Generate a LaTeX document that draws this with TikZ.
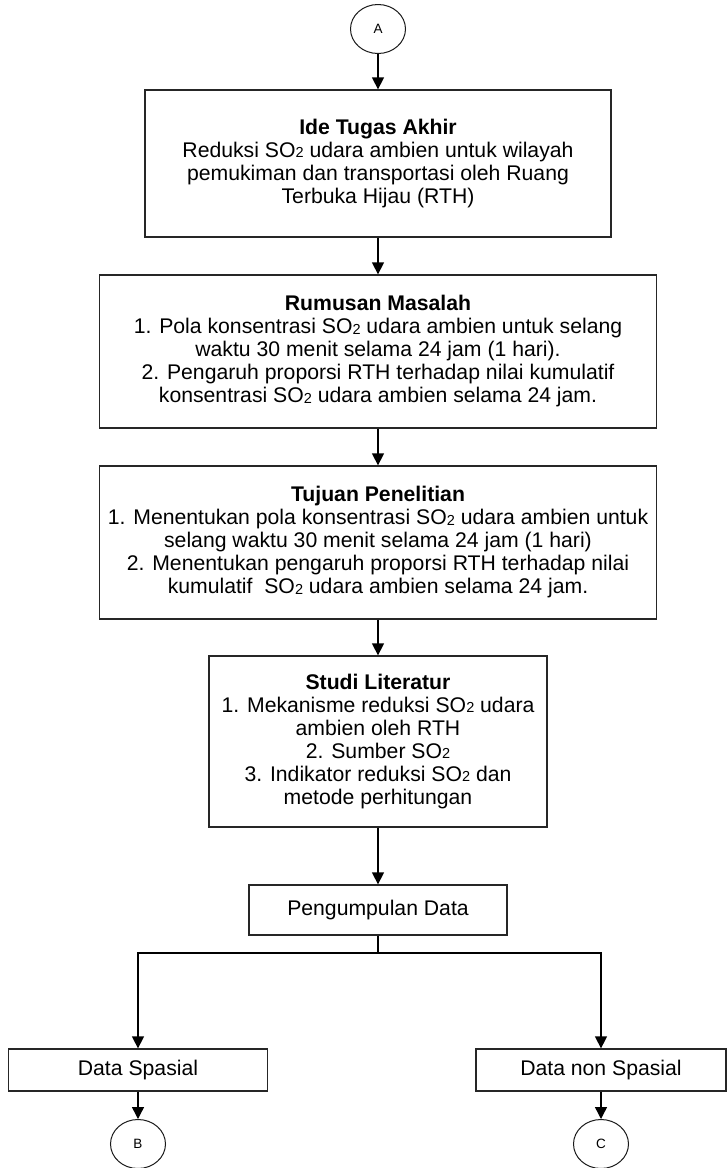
\documentclass[tikz,border=0pt]{standalone}
\usepackage{fontspec}
\setmainfont{Liberation Sans}
\usetikzlibrary{arrows.meta,shapes.geometric}
\newcommand{\sotwo}{SO\raisebox{-0.5pt}{\fontsize{14.5}{14.5}\selectfont 2}}
\begin{document}
\begin{tikzpicture}[x=1pt,y=-1pt,
  txt/.style={font=\fontsize{21.2}{23}\selectfont, align=center},
  box/.style={txt, draw=black!85, line width=1.3pt, inner sep=0pt},
  conn/.style={ellipse, draw=black!90, line width=1pt, minimum width=55pt, minimum height=49pt, inner sep=0pt, font=\fontsize{13.5}{13.5}\selectfont},
  arr/.style={line width=1.4pt, -{Triangle[width=12pt,length=12pt]}},
  ln/.style={line width=1.4pt}]
\useasboundingbox (0,0) rectangle (726,1168);
\node[conn] (A) at (378,29) {A};
\node[box, minimum width=466pt, minimum height=147pt] (b1) at (378,163.5)
  {\textbf{Ide Tugas Akhir}\\Reduksi \sotwo{} udara ambien untuk wilayah\\pemukiman dan transportasi oleh Ruang\\Terbuka Hijau (RTH)};
\node[box, minimum width=557pt, minimum height=153pt] (b2) at (378,351.5)
  {\textbf{Rumusan Masalah}\\1. Pola konsentrasi \sotwo{} udara ambien untuk selang\\waktu 30 menit selama 24 jam (1 hari).\\2. Pengaruh proporsi RTH terhadap nilai kumulatif\\konsentrasi \sotwo{} udara ambien selama 24 jam.};
\node[box, minimum width=557pt, minimum height=153pt] (b3) at (378,542.5)
  {\textbf{Tujuan Penelitian}\\1. Menentukan pola konsentrasi \sotwo{} udara ambien untuk\\selang waktu 30 menit selama 24 jam (1 hari)\\2. Menentukan pengaruh proporsi RTH terhadap nilai\\kumulatif\ \ \sotwo{} udara ambien selama 24 jam.};
\node[box, minimum width=338pt, minimum height=171pt] (b4) at (378,741.5)
  {\textbf{Studi Literatur}\\1. Mekanisme reduksi \sotwo{} udara\\ambien oleh RTH\\2. Sumber \sotwo\\3. Indikator reduksi \sotwo{} dan\\metode perhitungan};
\node[box, minimum width=258pt, minimum height=50pt] (b5) at (378,910) {Pengumpulan Data};
\node[box, minimum width=259pt, minimum height=42pt] (ds) at (138,1070) {Data Spasial};
\node[box, minimum width=250pt, minimum height=42pt] (dn) at (601,1070) {Data non Spasial};
\node[conn] (B) at (138,1144) {B};
\node[conn] (C) at (601,1144) {C};
\coordinate (br) at (378,953);
\draw[arr] (A) -- (b1);
\draw[arr] (b1) -- (b2);
\draw[arr] (b2) -- (b3);
\draw[arr] (b3) -- (b4);
\draw[arr] (b4) -- (b5);
\draw[ln] (b5) -- (br);
\draw[arr] (br) -| (ds);
\draw[arr] (br) -| (dn);
\draw[arr] (ds) -- (B);
\draw[arr] (dn) -- (C);
\end{tikzpicture}
\end{document}
